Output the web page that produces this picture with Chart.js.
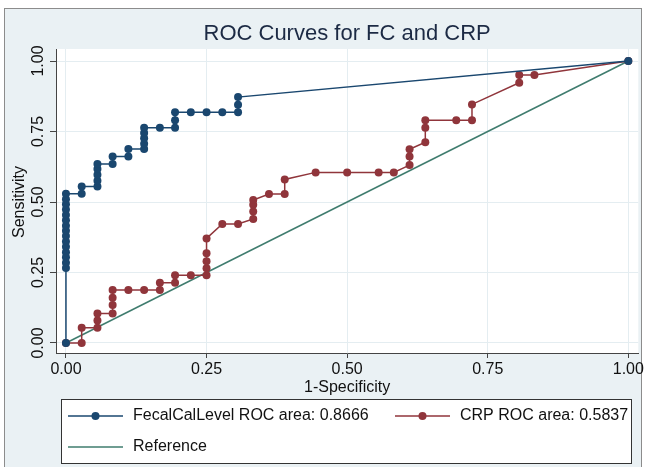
<!DOCTYPE html>
<html>
<head>
<meta charset="utf-8">
<script src="https://cdn.jsdelivr.net/npm/chart.js@4"></script>
<style>
  html, body { margin: 0; padding: 0; background: #fff; }
  #roc { display: block; }
</style>
</head>
<body>
<canvas id="roc" width="646" height="467"></canvas>
<script>
// ROC points (1-specificity, sensitivity)
const fcFpr = [0, 0, 0, 0, 0, 0, 0, 0, 0, 0, 0, 0, 0, 0, 0, 0,
  0.028, 0.028, 0.056, 0.056, 0.056, 0.056, 0.056, 0.083, 0.083, 0.111, 0.111,
  0.139, 0.139, 0.139, 0.139, 0.139, 0.167, 0.194, 0.194, 0.194,
  0.222, 0.25, 0.278, 0.306, 0.306, 0.306, 1];
const fcTpr = [0, 0.266, 0.285, 0.304, 0.322, 0.341, 0.360, 0.379, 0.398, 0.416, 0.435, 0.454, 0.473, 0.492, 0.510, 0.529,
  0.529, 0.555, 0.555, 0.575, 0.597, 0.617, 0.635, 0.635, 0.661, 0.661, 0.688,
  0.688, 0.707, 0.726, 0.745, 0.763, 0.763, 0.763, 0.790, 0.818,
  0.818, 0.818, 0.818, 0.818, 0.845, 0.872, 1];

const crpFpr = [0, 0.028, 0.028, 0.056, 0.056, 0.056, 0.083, 0.083, 0.083, 0.083,
  0.111, 0.139, 0.167, 0.167, 0.194, 0.194, 0.222, 0.25, 0.25, 0.25, 0.25, 0.25,
  0.278, 0.306, 0.333, 0.333, 0.333, 0.333, 0.361, 0.389, 0.389,
  0.444, 0.5, 0.556, 0.583, 0.611, 0.611, 0.611, 0.639, 0.639, 0.639,
  0.694, 0.722, 0.722, 0.806, 0.806, 0.833, 1];
const crpTpr = [0, 0, 0.054, 0.054, 0.080, 0.105, 0.105, 0.135, 0.160, 0.188,
  0.188, 0.188, 0.188, 0.214, 0.214, 0.240, 0.240, 0.240, 0.265, 0.290, 0.318, 0.371,
  0.422, 0.422, 0.440, 0.466, 0.490, 0.507, 0.528, 0.528, 0.580,
  0.605, 0.605, 0.605, 0.605, 0.631, 0.661, 0.687, 0.712, 0.763, 0.790,
  0.790, 0.790, 0.846, 0.923, 0.950, 0.950, 1];

const refFpr = [0, 1];
const refTpr = [0, 1];

const seriesLabels = ['FecalCalLevel ROC area: 0.8666', 'CRP ROC area: 0.5837', 'Reference'];
const tickValues = [0, 0.25, 0.5, 0.75, 1];

const navy = '#1a476f';
const maroon = '#90353b';
const teal = '#3f7c6e';

function toPoints(xs, ys) {
    return xs.map((x, i) => ({ x: x, y: ys[i] }));
}

// Marco gris claro, fondo blanco del área y textos de estilo Stata
const stataFrame = {
    id: 'stataFrame',
    beforeDraw(chart) {
        const ctx = chart.ctx;
        const a = chart.chartArea;
        ctx.save();
        ctx.fillStyle = '#ffffff';
        ctx.fillRect(0, 0, chart.width, chart.height);
        ctx.fillStyle = '#eaf1f4';
        ctx.fillRect(4, 8, 637, 470);
        ctx.strokeStyle = '#8c8c8c';
        ctx.lineWidth = 1;
        ctx.strokeRect(4.5, 8.5, 637, 470);
        ctx.fillStyle = '#ffffff';
        ctx.fillRect(a.left, a.top, a.right - a.left, a.bottom - a.top);
        ctx.restore();
    },
    afterDraw(chart) {
        const ctx = chart.ctx;
        const a = chart.chartArea;
        const yScale = chart.scales.y;
        const font = '"Liberation Sans", Arial, sans-serif';
        ctx.save();

        // title
        ctx.fillStyle = '#1c2a44';
        ctx.font = '22px ' + font;
        ctx.textAlign = 'center';
        ctx.textBaseline = 'middle';
        ctx.fillText('ROC Curves for FC and CRP', (a.left + a.right) / 2, 34);

        // y tick labels, rotated
        ctx.fillStyle = '#111';
        ctx.font = '16px ' + font;
        tickValues.forEach(v => {
            const py = yScale.getPixelForValue(v);
            ctx.save();
            ctx.translate(39, py);
            ctx.rotate(-Math.PI / 2);
            ctx.fillText(v.toFixed(2), 0, 0);
            ctx.restore();
        });

        // axis titles
        ctx.save();
        ctx.translate(20, (yScale.getPixelForValue(0) + yScale.getPixelForValue(1)) / 2);
        ctx.rotate(-Math.PI / 2);
        ctx.fillText('Sensitivity', 0, 0);
        ctx.restore();
        ctx.fillText('1-Specificity', (a.left + a.right) / 2, 388);

        // legend box
        const box = { x: 61.5, y: 399.5, w: 570, h: 64 };
        ctx.fillStyle = '#ffffff';
        ctx.fillRect(box.x, box.y, box.w, box.h);
        ctx.strokeStyle = '#333';
        ctx.lineWidth = 1;
        ctx.strokeRect(box.x, box.y, box.w, box.h);

        const items = [
            { ds: 0, x: 68, y: 416 },
            { ds: 1, x: 395, y: 416 },
            { ds: 2, x: 68, y: 447 }
        ];
        ctx.textAlign = 'left';
        items.forEach(it => {
            const ds = chart.data.datasets[it.ds];
            ctx.strokeStyle = ds.borderColor;
            ctx.lineWidth = 1.5;
            ctx.beginPath();
            ctx.moveTo(it.x, it.y);
            ctx.lineTo(it.x + 55, it.y);
            ctx.stroke();
            if (ds.pointRadius > 0) {
                ctx.fillStyle = ds.borderColor;
                ctx.beginPath();
                ctx.arc(it.x + 27.5, it.y, 4, 0, Math.PI * 2);
                ctx.fill();
            }
            ctx.fillStyle = '#111';
            ctx.fillText(ds.label, it.x + 65, it.y);
        });
        ctx.restore();
    }
};

const ctx = document.getElementById('roc').getContext('2d');
new Chart(ctx, {
    type: 'line',
    data: {
        datasets: [
            {
                label: seriesLabels[0],
                data: toPoints(fcFpr, fcTpr),
                borderColor: navy,
                backgroundColor: navy,
                borderWidth: 1.5,
                pointRadius: 4,
                pointBorderWidth: 0,
                tension: 0
            },
            {
                label: seriesLabels[1],
                data: toPoints(crpFpr, crpTpr),
                borderColor: maroon,
                backgroundColor: maroon,
                borderWidth: 1.5,
                pointRadius: 4,
                pointBorderWidth: 0,
                tension: 0
            },
            {
                label: seriesLabels[2],
                data: toPoints(refFpr, refTpr),
                borderColor: teal,
                backgroundColor: teal,
                borderWidth: 1.5,
                pointRadius: 0,
                tension: 0
            }
        ]
    },
    options: {
        responsive: false,
        animation: false,
        layout: { padding: { left: 0, right: 6, top: 49, bottom: 0 } },
        plugins: {
            legend: { display: false },
            title: { display: false },
            tooltip: { enabled: false }
        },
        scales: {
            x: {
                type: 'linear',
                min: -0.0177,
                max: 1.0177,
                afterBuildTicks: scale => { scale.ticks = tickValues.map(v => ({ value: v })); },
                afterFit: scale => { scale.height = 114; },
                grid: { color: '#e4edf1', tickColor: '#444', tickLength: 5 },
                border: { display: true, color: '#444', width: 1 },
                ticks: {
                    padding: 2,
                    color: '#111',
                    font: { family: '"Liberation Sans", Arial, sans-serif', size: 16 },
                    maxRotation: 0,
                    callback: v => Number(v).toFixed(2)
                }
            },
            y: {
                type: 'linear',
                min: -0.0355,
                max: 1.0426,
                afterBuildTicks: scale => { scale.ticks = tickValues.map(v => ({ value: v })); },
                afterFit: scale => { scale.width = 56; },
                grid: { color: '#e4edf1', tickColor: '#444', tickLength: 6 },
                border: { display: true, color: '#444', width: 1 },
                ticks: { display: false }
            }
        }
    },
    plugins: [stataFrame]
});
</script>
</body>
</html>
